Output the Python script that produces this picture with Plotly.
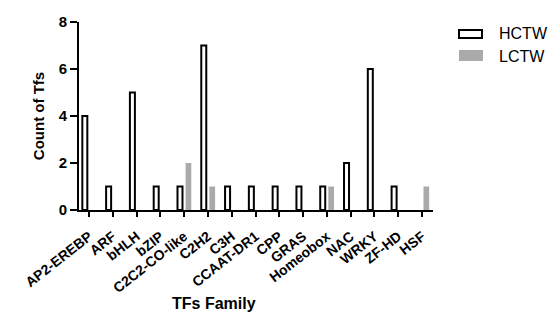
import plotly.graph_objects as go

categories = ["AP2-EREBP", "ARF", "bHLH", "bZIP", "C2C2-CO-like", "C2H2", "C3H",
              "CCAAT-DR1", "CPP", "GRAS", "Homeobox", "NAC", "WRKY", "ZF-HD", "HSF"]
hctw = [4, 1, 5, 1, 1, 7, 1, 1, 1, 1, 1, 2, 6, 1, 0]
lctw = [0, 0, 0, 0, 2, 1, 0, 0, 0, 0, 1, 0, 0, 0, 1]
y_ticks = [0, 2, 4, 6, 8]

# page body has an 8px margin; work in page coords and convert
OFF = 8
W, H = 556 - OFF, 318 - OFF
L, R, T, B = 79, 433, 22, 210  # page coords of plot area

xs = list(range(len(categories)))
fig = go.Figure()
fig.add_trace(go.Bar(x=xs, y=[v if v else None for v in hctw], name="HCTW",
                     offset=-0.28, width=0.21,
                     marker=dict(color="white", line=dict(color="black", width=2))))
fig.add_trace(go.Bar(x=xs, y=[v if v else None for v in lctw], name="LCTW",
                     offset=0.06, width=0.24,
                     marker=dict(color="#aaaaaa", line=dict(width=0))))

font = "Liberation Sans, Arial, sans-serif"
fig.update_layout(
    width=W, height=H,
    margin=dict(l=L - OFF, r=556 - R, t=T - OFF, b=318 - B, pad=0),
    paper_bgcolor="white", plot_bgcolor="white",
    barmode="overlay",
    showlegend=False,
    font=dict(family=font, color="black"),
)
fig.update_xaxes(
    range=[-0.42, 14.46], tickmode="array", tickvals=xs,
    ticktext=categories, tickangle=-38, ticks="outside", ticklen=5, tickwidth=2,
    tickcolor="black", showline=True, linecolor="black", linewidth=2,
    showgrid=False, zeroline=False, automargin=False, ticklabelstandoff=6,
    tickfont=dict(size=14, family=font, weight="bold", color="black"),
)
fig.update_yaxes(
    range=[0, 8], tickvals=y_ticks, ticks="outside", ticklen=7, tickwidth=2,
    tickcolor="black", showline=True, linecolor="black", linewidth=2,
    showgrid=False, zeroline=False, automargin=False,
    tickfont=dict(size=15, family=font, weight="bold", color="black"),
    title=dict(text="Count of Tfs", font=dict(size=15, family=font, weight="bold"), standoff=10),
)

def px(x):
    return (x - L) / (R - L)

def py(y):
    return (B - y) / (B - T)

fig.add_annotation(x=px(214), y=py(303), xref="paper", yref="paper", text="<b>TFs Family</b>",
                   showarrow=False, font=dict(size=16, family=font), xanchor="center", yanchor="middle")

fig.add_shape(type="rect", xref="paper", yref="paper", x0=px(459), x1=px(482), y0=py(30), y1=py(38),
              line=dict(color="black", width=2), fillcolor="white")
fig.add_shape(type="rect", xref="paper", yref="paper", x0=px(459), x1=px(483), y0=py(50), y1=py(61),
              line=dict(width=0), fillcolor="#aaaaaa")
fig.add_annotation(x=px(497), y=py(34), xref="paper", yref="paper", text="HCTW", showarrow=False,
                   font=dict(size=16, family=font), xanchor="left", yanchor="middle")
fig.add_annotation(x=px(497), y=py(56), xref="paper", yref="paper", text="LCTW", showarrow=False,
                   font=dict(size=16, family=font), xanchor="left", yanchor="middle")

fig.write_html("out.html")
